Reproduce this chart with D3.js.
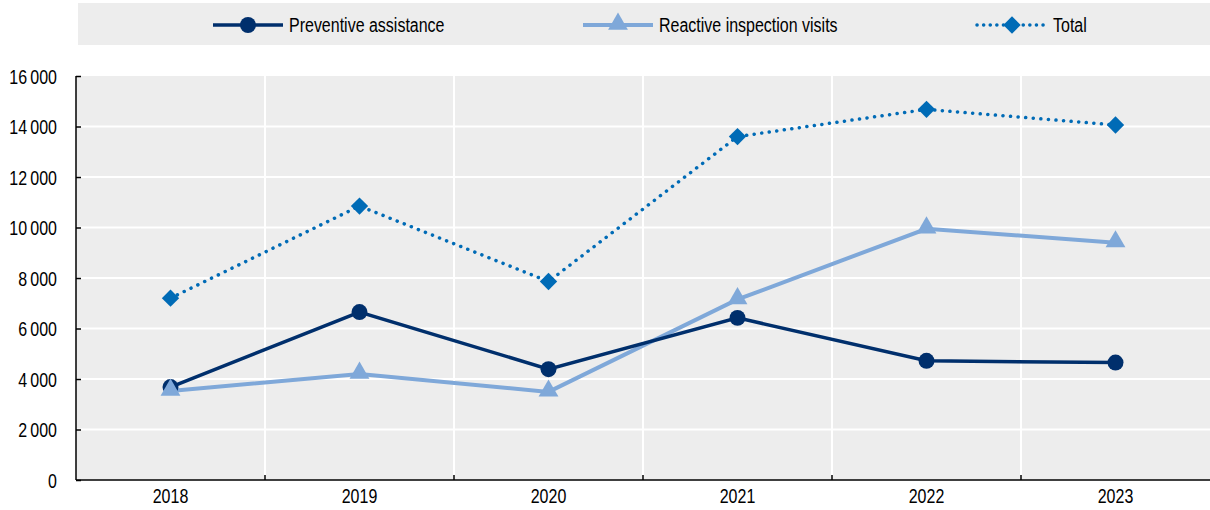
<!DOCTYPE html>
<html>
<head>
<meta charset="utf-8">
<script src="https://cdn.jsdelivr.net/npm/d3@7"></script>
<style>
  body { margin: 0; background: #fff; }
  svg text { font-family: "Liberation Sans", Arial, sans-serif; font-size: 19.5px; fill: #000; }
</style>
</head>
<body>
<div id="chart-area"></div>
<script>
// SVG Size
var width = 1210,
    height = 510;

// Data
var years = ["2018", "2019", "2020", "2021", "2022", "2023"];
var preventive = [3680, 6650, 4390, 6420, 4720, 4650];
var reactive = [3525, 4200, 3490, 7150, 9950, 9400];
var total = [7200, 10850, 7860, 13600, 14680, 14060];
var yTicks = [0, 2000, 4000, 6000, 8000, 10000, 12000, 14000, 16000];

var seriesNames = ["Preventive assistance", "Reactive inspection visits", "Total"];
var seriesColors = ["#002f6c", "#7fa8d9", "#006bb6"];

var margin = {left: 76, right: 0, top: 76, bottom: 30};

// no narrow font installed: squeeze text horizontally
var squeeze = 0.82;
function narrow(sel) {
  sel.each(function() {
    var t = d3.select(this);
    var tx = +t.attr("x") || 0;
    t.attr("x", 0).attr("transform", "translate(" + tx + ",0) scale(" + squeeze + ",1)");
  });
}

var svg = d3.select("#chart-area").append("svg")
    .attr("width", width)
    .attr("height", height);

// Scales
var x = d3.scaleBand()
    .domain(years)
    .range([margin.left, width - margin.right]);

var y = d3.scaleLinear()
    .domain([0, 16000])
    .range([height - margin.bottom, margin.top]);

// Plot background
svg.append("rect")
    .attr("x", margin.left)
    .attr("y", y(16000))
    .attr("width", width - margin.right - margin.left)
    .attr("height", y(0) - y(16000))
    .attr("fill", "#ededed");

// Horizontal gridlines
svg.selectAll(".hgrid")
    .data(yTicks.slice(1, -1))
    .enter()
    .append("line")
    .attr("x1", margin.left)
    .attr("x2", width - margin.right)
    .attr("y1", function(d){ return y(d); })
    .attr("y2", function(d){ return y(d); })
    .attr("stroke", "#fff")
    .attr("stroke-width", 2);

// Vertical gridlines at category boundaries
svg.selectAll(".vgrid")
    .data(years.slice(1))
    .enter()
    .append("line")
    .attr("x1", function(d){ return x(d); })
    .attr("x2", function(d){ return x(d); })
    .attr("y1", y(16000))
    .attr("y2", y(0))
    .attr("stroke", "#fff")
    .attr("stroke-width", 2);

// Y axis
var yAxis = d3.axisLeft(y)
    .tickValues(yTicks)
    .tickSize(-5)
    .tickPadding(19)
    .tickFormat(function(d){ return d3.format(",")(d).replace(/,/g, "\u2009"); });

var gy = svg.append("g")
    .attr("transform", "translate(" + margin.left + ",0)")
    .call(yAxis);
gy.select(".domain").attr("stroke", "#000").attr("stroke-width", 1.5).attr("d", "M0," + y(16000) + "V" + y(0));
gy.selectAll(".tick line").attr("stroke", "#000").attr("stroke-width", 1.5);
gy.selectAll(".tick text").attr("font-size", null).attr("font-family", null).attr("dy", "0.37em").call(narrow);

// X axis
var gx = svg.append("g")
    .attr("transform", "translate(0," + y(0) + ")")
    .call(d3.axisBottom(x).tickSize(0).tickPadding(9));
gx.select(".domain").attr("stroke", "#000").attr("stroke-width", 1.5).attr("d", "M" + margin.left + ",0H" + width);
gx.selectAll(".tick text").attr("font-size", null).attr("font-family", null).call(narrow);

// x ticks at boundaries (pointing inward)
gx.selectAll(".bticks")
    .data(years.slice(1))
    .enter()
    .append("line")
    .attr("x1", function(d){ return x(d); })
    .attr("x2", function(d){ return x(d); })
    .attr("y1", 0)
    .attr("y2", -5)
    .attr("stroke", "#000")
    .attr("stroke-width", 1.5);

// Lines
var line = d3.line()
    .x(function(d, i){ return x(years[i]) + x.bandwidth() / 2; })
    .y(function(d){ return y(d); });

svg.append("path")
    .datum(reactive)
    .attr("d", line)
    .attr("fill", "none")
    .attr("stroke", seriesColors[1])
    .attr("stroke-width", 4);

svg.append("path")
    .datum(preventive)
    .attr("d", line)
    .attr("fill", "none")
    .attr("stroke", seriesColors[0])
    .attr("stroke-width", 3.5);

svg.append("path")
    .datum(total)
    .attr("d", line)
    .attr("fill", "none")
    .attr("stroke", seriesColors[2])
    .attr("stroke-width", 3.5)
    .attr("stroke-linecap", "round")
    .attr("stroke-dasharray", "0.1 7.5");

// Markers
var circleSym = d3.symbol().type(d3.symbolCircle).size(200);
var triSym = d3.symbol().type(d3.symbolTriangle).size(170);
var diaSym = d3.symbol().type(d3.symbolSquare).size(150);

svg.selectAll(".m-prev")
    .data(preventive)
    .enter()
    .append("path")
    .attr("d", circleSym)
    .attr("transform", function(d, i){ return "translate(" + (x(years[i]) + x.bandwidth() / 2) + "," + y(d) + ")"; })
    .attr("fill", seriesColors[0]);

svg.selectAll(".m-reac")
    .data(reactive)
    .enter()
    .append("path")
    .attr("d", triSym)
    .attr("transform", function(d, i){ return "translate(" + (x(years[i]) + x.bandwidth() / 2) + "," + (y(d) - 1) + ")"; })
    .attr("fill", seriesColors[1]);

svg.selectAll(".m-tot")
    .data(total)
    .enter()
    .append("path")
    .attr("d", diaSym)
    .attr("transform", function(d, i){ return "translate(" + (x(years[i]) + x.bandwidth() / 2) + "," + y(d) + ") rotate(45)"; })
    .attr("fill", seriesColors[2]);

// Legend
svg.append("rect")
    .attr("x", 78)
    .attr("y", 3)
    .attr("width", width - 78)
    .attr("height", 42)
    .attr("fill", "#ededed");

var legendX = [213, 583, 977];
var legendY = 25;

var lg = svg.selectAll(".legend")
    .data(seriesNames)
    .enter()
    .append("g")
    .attr("transform", function(d, i){ return "translate(" + legendX[i] + "," + legendY + ")"; });

lg.append("line")
    .attr("x1", 0)
    .attr("x2", 70)
    .attr("y1", 0)
    .attr("y2", 0)
    .attr("stroke", function(d, i){ return seriesColors[i]; })
    .attr("stroke-width", function(d, i){ return i === 1 ? 4 : 3.5; })
    .attr("stroke-linecap", function(d, i){ return i === 2 ? "round" : "butt"; })
    .attr("stroke-dasharray", function(d, i){ return i === 2 ? "0.1 6.5" : null; });

lg.append("path")
    .attr("d", function(d, i){ return [circleSym, triSym, diaSym][i](); })
    .attr("transform", function(d, i){ return "translate(35," + (i === 1 ? -1 : 0) + ")" + (i === 2 ? " rotate(45)" : ""); })
    .attr("fill", function(d, i){ return seriesColors[i]; });

lg.append("text")
    .attr("x", 76)
    .attr("y", 0)
    .attr("dy", "0.35em")
    .text(function(d){ return d; })
    .call(narrow);
</script>
</body>
</html>
